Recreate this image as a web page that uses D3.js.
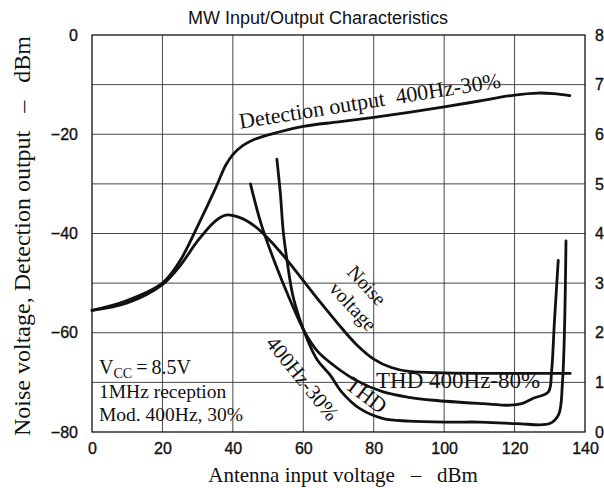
<!DOCTYPE html>
<html><head><meta charset="utf-8">
<script src="https://cdn.jsdelivr.net/npm/d3@7"></script>
<style>
html,body{margin:0;padding:0;background:#fff;}
svg{display:block;}
</style></head>
<body>
<script>
// ---- data ----
const xTicks = [0, 20, 40, 60, 80, 100, 120, 140];
const yLeftTicks = [0, -20, -40, -60, -80];
const yRightTicks = [0, 1, 2, 3, 4, 5, 6, 7, 8];
const xGrid = [20, 40, 60, 80, 100, 120];
const yGrid = [-10, -20, -30, -40, -50, -60, -70];

// Detection output 400Hz-30% (dBm, left axis)
const detX = [0, 10, 20, 25, 30, 35, 38, 40, 43, 46.2, 52.8, 60, 70, 80, 90, 100, 110, 120, 126.6, 131, 135.7];
const detY = [-55.5, -53.5, -50, -45.5, -38.5, -31, -26.2, -24.1, -22.2, -21.0, -19.6, -18.4, -17.5, -16.6, -15.6, -14.5, -13.3, -12.1, -11.7, -11.8, -12.2];

// Noise voltage (dBm, left axis)
const noiseX = [0, 10, 20, 25, 30, 35, 38, 42, 46, 50, 55, 60, 65, 70, 75, 80, 85, 90, 100, 120, 135.8];
const noiseY = [-55.5, -54, -50.3, -46.5, -41.5, -37.5, -36.3, -36.8, -38.4, -41, -45, -49.5, -54, -58.3, -62.3, -65.3, -67, -67.8, -68.1, -68.2, -68.2];

// THD 400Hz-80% (%, right axis)
const thd80X = [45, 48, 52, 56, 60.5, 64, 68.5, 75, 82.7, 90, 97, 111, 118.7, 122, 125.3, 129.6, 130.5, 131.3, 132.4];
const thd80Y = [5.0, 4.2, 3.4, 2.7, 2.0, 1.63, 1.35, 1.04, 0.81, 0.70, 0.64, 0.57, 0.54, 0.57, 0.68, 0.81, 1.22, 2.2, 3.46];

// THD 400Hz-30% (%, right axis)
const thd30X = [52.5, 53.5, 54.3, 55.5, 57.2, 61, 64, 67.6, 71, 76.1, 82.7, 90, 101.7, 110, 120.6, 130, 132.5, 133.6, 134.6];
const thd30Y = [5.5, 4.8, 4.05, 3.4, 2.7, 1.89, 1.45, 1.15, 0.8, 0.47, 0.27, 0.22, 0.2, 0.2, 0.17, 0.17, 0.35, 1.0, 3.85];

// ---- layout ----
const W = 604, H = 488;
const M = {left: 92, right: 585, top: 35, bottom: 432};
const serif = "'Liberation Serif','Times New Roman',serif";
const sans = "'Liberation Sans',Arial,sans-serif";

const svg = d3.select("body").append("svg").attr("width", W).attr("height", H);
svg.append("rect").attr("width", W).attr("height", H).attr("fill", "#fff");

const x = d3.scaleLinear().domain([0, 140]).range([M.left, M.right]);
const yL = d3.scaleLinear().domain([-80, 0]).range([M.bottom, M.top]);
const yR = d3.scaleLinear().domain([0, 8]).range([M.bottom, M.top]);

// grid
const g = svg.append("g");
g.selectAll(".vg").data(xGrid).join("line")
  .attr("x1", d => x(d)).attr("x2", d => x(d))
  .attr("y1", M.top).attr("y2", M.bottom)
  .attr("stroke", "#333").attr("stroke-width", 0.9);
g.selectAll(".hg").data(yGrid).join("line")
  .attr("x1", M.left).attr("x2", M.right)
  .attr("y1", d => yL(d)).attr("y2", d => yL(d))
  .attr("stroke", "#333").attr("stroke-width", 0.9);
g.append("rect").attr("x", M.left).attr("y", M.top)
  .attr("width", M.right - M.left).attr("height", M.bottom - M.top)
  .attr("fill", "none").attr("stroke", "#111").attr("stroke-width", 1.3);

// axes (labels only)
function styleTicks(sel) {
  sel.select(".domain").remove();
  sel.selectAll("text").attr("font-family", sans).attr("font-size", 16)
    .attr("fill", "#111").attr("stroke", "#111").attr("stroke-width", 0.35);
}
const axL = d3.axisLeft(yL).tickValues(yLeftTicks).tickSize(0).tickPadding(14)
  .tickFormat(d => d === 0 ? "0" : "\u2212" + Math.abs(d));
svg.append("g").attr("transform", `translate(${M.left},0)`).call(axL).call(styleTicks);

const axR = d3.axisRight(yR).tickValues(yRightTicks).tickSize(0).tickPadding(10)
  .tickFormat(d3.format("d"));
svg.append("g").attr("transform", `translate(${M.right},0)`).call(axR).call(styleTicks);

const axB = d3.axisBottom(x).tickValues(xTicks).tickSize(0).tickPadding(11)
  .tickFormat(d3.format("d"));
svg.append("g").attr("transform", `translate(0,${M.bottom})`).call(axB).call(styleTicks);

// titles
svg.append("text").attr("x", 318).attr("y", 24).attr("text-anchor", "middle")
  .attr("font-family", sans).attr("font-size", 18).attr("fill", "#111")
  .text("MW Input/Output Characteristics");
svg.append("text").attr("x", 343).attr("y", 482).attr("text-anchor", "middle")
  .attr("font-family", serif).attr("font-size", 21).attr("fill", "#111")
  .attr("xml:space", "preserve")
  .text("Antenna input voltage   \u2013   dBm");
svg.append("text").attr("transform", `translate(30,236) rotate(-90)`)
  .attr("text-anchor", "middle")
  .attr("font-family", serif).attr("font-size", 24).attr("fill", "#111")
  .attr("xml:space", "preserve")
  .text("Noise voltage, Detection output   \u2013   dBm");

// curves
const lineL = d3.line().x(d => x(d[0])).y(d => yL(d[1])).curve(d3.curveCatmullRom.alpha(0.5));
const lineR = d3.line().x(d => x(d[0])).y(d => yR(d[1])).curve(d3.curveCatmullRom.alpha(0.5));
const zip = (a, b) => a.map((v, i) => [v, b[i]]);
const curves = svg.append("g").attr("fill", "none").attr("stroke", "#111")
  .attr("stroke-width", 2.8).attr("stroke-linecap", "round").attr("stroke-linejoin", "round");
curves.append("path").attr("d", lineL(zip(detX, detY)));
curves.append("path").attr("d", lineL(zip(noiseX, noiseY)));
curves.append("path").attr("d", lineR(zip(thd80X, thd80Y)));
curves.append("path").attr("d", lineR(zip(thd30X, thd30Y)));

// curve labels
function label(txt, cx, cy, ang, size, anchor) {
  return svg.append("text").attr("transform", `translate(${cx},${cy}) rotate(${ang})`)
    .attr("text-anchor", anchor || "middle")
    .attr("font-family", serif).attr("font-size", size).attr("fill", "#111")
    .attr("xml:space", "preserve").text(txt);
}
label("Detection output  400Hz-30%", 371, 108, -9, 22);
label("Noise", 362, 290, 47, 20);
label("voltage", 348, 311, 47, 20);
label("THD 400Hz-80%", 376, 388, 0, 23, "start");
label("THD", 362, 401, 37, 22);
label("400Hz-30%", 297, 383, 51, 21);

// conditions
const t1 = svg.append("text").attr("x", 99).attr("y", 374).attr("font-family", serif).attr("font-size", 20).attr("fill", "#111");
t1.append("tspan").text("V");
t1.append("tspan").attr("font-size", 14).attr("dy", 4).text("CC");
t1.append("tspan").attr("dy", -4).text("\u2009=\u20098.5V");
svg.append("text").attr("x", 99).attr("y", 398).attr("font-family", serif).attr("font-size", 19.5).attr("fill", "#111").text("1MHz reception");
svg.append("text").attr("x", 99).attr("y", 421).attr("font-family", serif).attr("font-size", 19.5).attr("fill", "#111").text("Mod. 400Hz, 30%");
</script>
</body></html>
